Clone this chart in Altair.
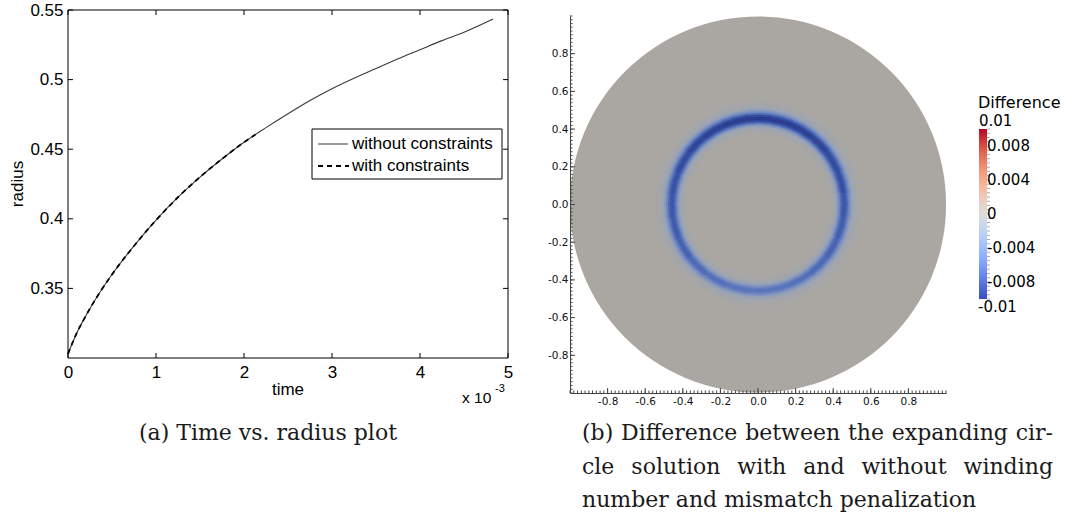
import altair as alt
import pandas as pd

# ---------------- (a) time vs radius ----------------
time_free = [0.0, 0.1, 0.2, 0.35, 0.5, 0.75, 1.0, 1.25, 1.5, 1.75, 2.0, 2.25, 2.5,
             2.75, 3.0, 3.25, 3.5, 3.75, 4.0, 4.25, 4.5, 4.83]
radius_free = [0.303, 0.318, 0.330, 0.346, 0.360, 0.3805, 0.399, 0.4155, 0.430, 0.443,
               0.455, 0.4655, 0.4755, 0.485, 0.4935, 0.501, 0.508, 0.515, 0.5215, 0.528,
               0.534, 0.5435]
time_con = [0.0, 0.1, 0.2, 0.35, 0.5, 0.75, 1.0, 1.25, 1.5, 1.75, 2.0, 2.13]
radius_con = [0.303, 0.318, 0.330, 0.346, 0.360, 0.3805, 0.399, 0.4155, 0.430, 0.443,
              0.455, 0.4605]
x_ticks_a = [0, 1, 2, 3, 4, 5]
y_ticks_a = [0.35, 0.4, 0.45, 0.5, 0.55]

# ---------------- (b) difference field ----------------
# ring sector centres (degrees clockwise from top) and peak difference read per sector
ring_angle = [0, 15, 30, 45, 60, 75, 90, 105, 120, 135, 150, 165, 180, 195, 210, 225,
              240, 255, 270, 285, 300, 315, 330, 345]
ring_peak = [-0.0100, -0.0100, -0.0097, -0.0093, -0.0088, -0.0083, -0.0078, -0.0074,
             -0.0070, -0.0066, -0.0062, -0.0059, -0.0058, -0.0059, -0.0062, -0.0066,
             -0.0071, -0.0075, -0.0078, -0.0082, -0.0087, -0.0092, -0.0096, -0.0099]
# radial bands (inner edges, width 0.01) and relative strength of the ring
ring_r = [0.36, 0.37, 0.38, 0.39, 0.40, 0.41, 0.42, 0.43, 0.44, 0.45, 0.46, 0.47,
          0.48, 0.49, 0.50, 0.51, 0.52, 0.53, 0.54, 0.55, 0.56]
ring_profile = [0.01, 0.02, 0.04, 0.07, 0.12, 0.22, 0.38, 0.60, 0.84, 0.98, 0.98, 0.84,
                0.62, 0.42, 0.27, 0.17, 0.11, 0.07, 0.05, 0.03, 0.015]
ring_dr = 0.01
ring_da = 15
x_ticks_b = [-0.8, -0.6, -0.4, -0.2, 0.0, 0.2, 0.4, 0.6, 0.8]
minor_ticks_b = [round(-1 + 0.02 * i, 2) for i in range(101)]
bar_values = [0.008, 0.004, 0, -0.004, -0.008]
bar_minor = [round(-0.01 + 0.0005 * i, 4) for i in range(41)]

# ---------------- captions ----------------
caption_a = "(a) Time vs. radius plot"
caption_b = ["(b) Difference between the expanding cir-",
             "cle solution with and without winding",
             "number and mismatch penalization"]

df_free = pd.DataFrame({"t": time_free, "r": radius_free})
df_con = pd.DataFrame({"t": time_con, "r": radius_con})
df_frame = pd.DataFrame({"x0": [0], "x1": [5], "y0": [0.3], "y1": [0.55]})
df_xt = pd.DataFrame({"v": x_ticks_a})
df_yt = pd.DataFrame({"v": y_ticks_a})

rows = []
for a, pk in zip(ring_angle, ring_peak):
    for r, p in zip(ring_r, ring_profile):
        rows.append({"cx": 0, "cy": 0, "a0": a - ring_da / 2, "a1": a + ring_da / 2,
                     "r0": r, "r1": r + ring_dr, "diff": pk * p})
df_ring = pd.DataFrame(rows)
df_disk = pd.DataFrame({"cx": [0], "cy": [0], "r": [1.0]})
df_major = pd.DataFrame({"v": x_ticks_b})
df_minor = pd.DataFrame({"v": minor_ticks_b})
df_bar = pd.DataFrame({"d": [-0.01, 0.01]})
df_barminor = pd.DataFrame({"v": bar_minor})

# ---------------- layout (pixels) ----------------
AL, AR, AT, AB = 68, 508, 10, 358          # panel (a) plot box
BL, BR, BT, BB = 570, 946, 16, 393         # panel (b) axes box
CB_X, CB_T, CB_B = 979, 129, 299           # colour bar

XA = alt.Scale(domain=[0, 5], range=[AL, AR], nice=False, zero=False)
YA = alt.Scale(domain=[0.3, 0.55], range=[AB, AT], nice=False, zero=False)
XB = alt.Scale(domain=[-1, 1], range=[BL, BR], nice=False, zero=False)
YB = alt.Scale(domain=[-1, 1], range=[BB, BT], nice=False, zero=False)
RB = alt.Scale(type="linear", domain=[0, 1], range=[0, (BR - BL) / 2], zero=True, nice=False)
TB = alt.Scale(domain=[0, 360], range=[0, 6.283185307], nice=False, zero=False)
YC = alt.Scale(domain=[-0.01, 0.01], range=[CB_B, CB_T], nice=False, zero=False)
shade = alt.Scale(domain=[-0.01, -0.008, -0.006, -0.004, -0.002, 0],
                  range=["#26388c", "#3550a5", "#5470bb", "#7a90c2", "#9ba4b6", "#aaa7a2"],
                  interpolate="rgb")
coolwarm = alt.Scale(domain=[-0.01, -0.0075, -0.005, -0.0025, 0, 0.0025, 0.005, 0.0075, 0.01],
                     range=["#3b4cc0", "#6282ea", "#8db0fe", "#b8d0f9", "#dddddd",
                            "#f5c4ad", "#f49a7b", "#de604d", "#b40426"],
                     interpolate="rgb")

SANS = "Liberation Sans"
SERIF = "DejaVu Serif"
one = alt.Data(values=[{}])


def label(txt, x, y, size, font=SANS, align="center", baseline="middle", angle=0,
          color="black"):
    return alt.Chart(one).mark_text(text=txt, fontSize=size, font=font, align=align,
                                    baseline=baseline, angle=angle, color=color).encode(
        x=alt.value(x), y=alt.value(y))


def hline(x1, x2, y, dash=None, width=1.0, color="black"):
    kw = {"strokeDash": dash} if dash else {}
    return alt.Chart(one).mark_rule(color=color, strokeWidth=width, **kw).encode(
        x=alt.value(x1), x2=alt.value(x2), y=alt.value(y))


# approximate DejaVu Serif advance widths (em) used to justify caption lines
_W = {" ": .318, "(": .39, ")": .39, "-": .338, ".": .318, "a": .596, "b": .64,
      "c": .56, "d": .64, "e": .592, "f": .37, "g": .64, "h": .644, "i": .32, "l": .32,
      "m": .948, "n": .644, "o": .602, "p": .64, "r": .478, "s": .513, "t": .402,
      "u": .644, "v": .565, "w": .856, "x": .564, "z": .525, "D": .77, "T": .668}


def text_w(s, size):
    return sum(_W.get(ch, .6) for ch in s) * size


def justified(line, x0, x1, y, size, color="#1a1a1a"):
    words = line.split(" ")
    widths = [text_w(w, size) for w in words]
    gap = (x1 - x0 - sum(widths)) / (len(words) - 1)
    out, x = [], x0
    for i, (w, wd) in enumerate(zip(words, widths)):
        if i == len(words) - 1:
            out.append(label(w, x1, y, size, font=SERIF, align="right", color=color))
        else:
            out.append(label(w, x, y, size, font=SERIF, align="left", color=color))
        x += wd + gap
    return out


layers = []

# ---- panel (a) ----
frame = alt.Chart(df_frame).mark_rect(fillOpacity=0, stroke="black", strokeWidth=1).encode(
    x=alt.X("x0:Q", scale=XA, axis=alt.Axis(
        orient="bottom", offset=AB - 514, values=x_ticks_a, format="d", ticks=False,
        domain=False, grid=False, labelFont=SANS, labelFontSize=17, labelColor="black",
        labelPadding=6, labelFlush=False, labelOverlap=False, title=None)),
    x2="x1:Q",
    y=alt.Y("y0:Q", scale=YA, axis=alt.Axis(
        orient="left", offset=-AL, values=y_ticks_a, format=".2~f", ticks=False,
        domain=False, grid=False, labelFont=SANS, labelFontSize=17, labelColor="black",
        labelPadding=5, labelFlush=False, labelOverlap=False, title=None)),
    y2="y1:Q",
)
layers.append(frame)

tk = dict(color="black", strokeWidth=1)
layers.append(alt.Chart(df_xt).mark_rule(**tk).encode(
    x=alt.X("v:Q", scale=XA, axis=None), y=alt.value(AB), y2=alt.value(AB - 5)))
layers.append(alt.Chart(df_xt).mark_rule(**tk).encode(
    x=alt.X("v:Q", scale=XA, axis=None), y=alt.value(AT), y2=alt.value(AT + 5)))
layers.append(alt.Chart(df_yt).mark_rule(**tk).encode(
    y=alt.Y("v:Q", scale=YA, axis=None), x=alt.value(AL), x2=alt.value(AL + 5)))
layers.append(alt.Chart(df_yt).mark_rule(**tk).encode(
    y=alt.Y("v:Q", scale=YA, axis=None), x=alt.value(AR), x2=alt.value(AR - 5)))

layers.append(alt.Chart(df_free).mark_line(color="#3a3a3a", strokeWidth=1.1,
                                            interpolate="monotone").encode(
    x=alt.X("t:Q", scale=XA, axis=None), y=alt.Y("r:Q", scale=YA, axis=None)))
layers.append(alt.Chart(df_con).mark_line(color="black", strokeWidth=1.8,
                                           strokeDash=[5, 4], interpolate="monotone").encode(
    x=alt.X("t:Q", scale=XA, axis=None), y=alt.Y("r:Q", scale=YA, axis=None)))

# legend of (a)
layers.append(alt.Chart(one).mark_rect(fill="white", stroke="black", strokeWidth=1).encode(
    x=alt.value(312), x2=alt.value(502), y=alt.value(129), y2=alt.value(179)))
layers.append(hline(318, 348, 144, width=1.0, color="#3a3a3a"))
layers.append(hline(318, 349, 166, dash=[5, 4], width=1.8))
layers.append(label("without constraints", 352, 144, 17, align="left"))
layers.append(label("with constraints", 352, 166, 17, align="left"))

layers.append(label("time", (AL + AR) / 2, 390, 17))
layers.append(label("radius", 18, 184, 17, angle=270))
layers.append(label("x 10", 462, 403, 15.5, align="left", baseline="alphabetic"))
layers.append(label("-3", 495, 392, 11, align="left", baseline="alphabetic"))

# ---- panel (b) ----
ax_lab = dict(labelFont="DejaVu Sans", labelFontSize=10.5, labelColor="#111",
              labelFlush=False, labelOverlap=False, ticks=False, grid=False,
              domain=True, domainColor="#444", domainWidth=1, title=None, zindex=1,
              labelExpr="(datum.value < 0 ? '-' : '') + format(abs(datum.value), '.1f')")
disk = alt.Chart(df_disk).mark_arc(theta=0, theta2=6.2832, color="#aaa7a2").encode(
    x=alt.X("cx:Q", scale=XB, axis=alt.Axis(orient="bottom", offset=BB - 514,
                                             values=x_ticks_b, labelPadding=3, **ax_lab)),
    y=alt.Y("cy:Q", scale=YB, axis=alt.Axis(orient="left", offset=-BL,
                                             values=x_ticks_b, labelPadding=2, **ax_lab)),
    radius=alt.Radius("r:Q", scale=RB),
)
layers.append(disk)

ring = alt.Chart(df_ring).mark_arc(strokeWidth=0.6).encode(
    x=alt.X("cx:Q", scale=XB, axis=None),
    y=alt.Y("cy:Q", scale=YB, axis=None),
    theta=alt.Theta("a0:Q", scale=TB, stack=None),
    theta2="a1:Q",
    radius=alt.Radius("r0:Q", scale=RB),
    radius2="r1:Q",
    color=alt.Color("diff:Q", scale=shade, legend=None),
    stroke=alt.Stroke("diff:Q", scale=shade, legend=None),
)
layers.append(ring)

tkb = dict(color="#444", strokeWidth=1)
for df_t, ln in ((df_major, 5), (df_minor, 2.5)):
    layers.append(alt.Chart(df_t).mark_rule(**tkb).encode(
        x=alt.X("v:Q", scale=XB, axis=None), y=alt.value(BB), y2=alt.value(BB - ln)))
    layers.append(alt.Chart(df_t).mark_rule(**tkb).encode(
        y=alt.Y("v:Q", scale=YB, axis=None), x=alt.value(BL), x2=alt.value(BL + ln)))

# colour bar (legend of the colour scale)
bar = alt.Chart(df_bar).mark_point(opacity=0).encode(
    x=alt.value(0), y=alt.value(0),
    color=alt.Color("d:Q", scale=coolwarm, legend=alt.Legend(
        orient="none", legendX=CB_X, legendY=CB_T, direction="vertical",
        gradientLength=CB_B - CB_T, gradientThickness=8, gradientStrokeWidth=0,
        title=None, values=bar_values, padding=0, labelFont="DejaVu Sans",
        labelFontSize=15, labelColor="black", labelOffset=0, labelOverlap=False,
        labelExpr="datum.value == 0 ? '0' : (datum.value < 0 ? '-' : '') + format(abs(datum.value), '.3f')")),
)
layers.append(bar)
layers.append(alt.Chart(df_barminor).mark_rule(color="#999", strokeWidth=0.8).encode(
    y=alt.Y("v:Q", scale=YC, axis=None), x=alt.value(CB_X + 8), x2=alt.value(CB_X + 11)))
layers.append(label("Difference", 978, 103, 16, font="DejaVu Sans", align="left"))
layers.append(label("0.01", 979, 121, 15, font="DejaVu Sans", align="left"))
layers.append(label("-0.01", 978, 307, 15, font="DejaVu Sans", align="left"))

# ---- captions ----
layers.append(label(caption_a, 139, 433, 22, font=SERIF, align="left", color="#1a1a1a"))
layers += justified(caption_b[0], 582, 1053, 433, 22)
layers += justified(caption_b[1], 582, 1053, 467, 22)
layers.append(label(caption_b[2], 582, 500, 22, font=SERIF, align="left", color="#1a1a1a"))

chart = alt.layer(*layers).resolve_scale(
    x="independent", y="independent", color="independent", stroke="independent"
).properties(
    width=1067, height=514, autosize=alt.AutoSizeParams(type="none"), padding=0,
    background="white"
).configure_view(stroke=None)

chart.save("out.html", embed_options={"renderer": "svg", "actions": False})
